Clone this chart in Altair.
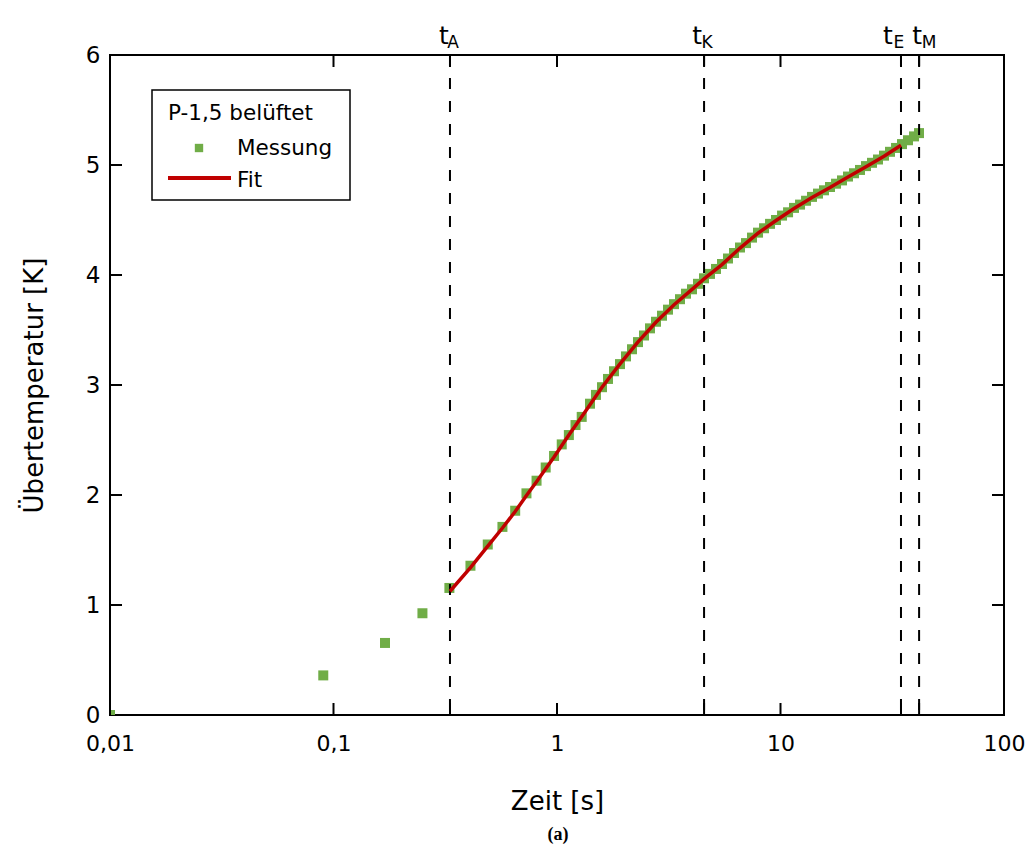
import altair as alt
import pandas as pd

# ---------------- data ----------------
meas_t = [0.01, 0.09, 0.17, 0.25, 0.33, 0.41, 0.49, 0.57, 0.65, 0.73, 0.81, 0.89,
          0.97, 1.05, 1.13, 1.21, 1.29,
          1.405, 1.494, 1.590, 1.691, 1.799, 1.914, 2.036, 2.166, 2.304, 2.451,
          2.607, 2.773, 2.950, 3.138, 3.338, 3.551, 3.778, 4.018, 4.275, 4.547,
          4.837, 5.145, 5.474, 5.823, 6.194, 6.590, 7.010, 7.457, 7.933, 8.440,
          8.978, 9.548, 10.16, 10.81, 11.49, 12.23, 13.01, 13.83, 14.72, 15.65,
          16.65, 17.72, 18.84, 20.04, 21.33, 22.68, 24.13, 25.67, 27.31, 29.05,
          30.90, 32.88, 34.97, 37.20, 39.58, 41.67]
meas_T = [0.0, 0.36, 0.655, 0.925, 1.155, 1.357, 1.55, 1.71, 1.857, 2.015, 2.13, 2.25,
          2.355, 2.46, 2.545, 2.636, 2.71,
          2.83, 2.91, 2.98, 3.055, 3.125, 3.19, 3.26, 3.325, 3.39, 3.45,
          3.515, 3.575, 3.63, 3.685, 3.735, 3.78, 3.83, 3.87, 3.92, 3.97,
          4.01, 4.055, 4.10, 4.15, 4.20, 4.25, 4.29, 4.34, 4.385, 4.425,
          4.465, 4.50, 4.54, 4.57, 4.61, 4.64, 4.675, 4.71, 4.74, 4.77,
          4.80, 4.83, 4.86, 4.895, 4.925, 4.955, 4.99, 5.02, 5.05, 5.085,
          5.12, 5.155, 5.19, 5.225, 5.26, 5.29]

fit_t = [0.332, 0.41, 0.49, 0.57, 0.65, 0.73, 0.81, 0.97, 1.13, 1.32, 1.59, 1.91,
         2.30, 2.77, 3.34, 4.02, 4.55, 5.47, 6.59, 7.93, 9.55, 11.49, 13.83, 16.65,
         20.04, 24.13, 29.05, 34.6]
fit_T = [1.125, 1.34, 1.535, 1.70, 1.85, 1.995, 2.12, 2.345, 2.545, 2.74, 2.98, 3.19,
         3.39, 3.57, 3.73, 3.87, 3.965, 4.095, 4.245, 4.38, 4.495, 4.605, 4.705, 4.795,
         4.89, 4.985, 5.08, 5.18]

mark_names = ["A", "K", "E", "M"]
mark_t = [0.332, 4.55, 34.6, 41.7]

x_tick_values = [0.01, 0.1, 1, 10, 100]
y_tick_values = [0, 1, 2, 3, 4, 5, 6]

legend_title = "P-1,5 belüftet"
legend_labels = ["Messung", "Fit"]
x_title = "Zeit [s]"
y_title = "Übertemperatur [K]"
caption = "(a)"

# ---------------- style ----------------
W, H = 894, 660
GREEN = "#70AD47"
RED = "#C00000"
FONT = "DejaVu Sans"
label_dx = {"A": (-6, 3), "K": (-7, 3), "E": (-13, -2), "M": (-2, 10)}

xs = alt.Scale(type="log", domain=[0.01, 100], nice=False)
ys = alt.Scale(domain=[0, 6], nice=False, zero=False)

meas = pd.DataFrame({"t": meas_t, "T": meas_T})
fit = pd.DataFrame({"t": fit_t, "T": fit_T})
markers = pd.DataFrame({"name": mark_names, "t": mark_t})
xticks = pd.DataFrame({"t": sorted(x_tick_values + mark_t)})
yticks = pd.DataFrame({"T": y_tick_values[1:-1]})
one = pd.DataFrame({"_": [0]})

x_axis = alt.Axis(values=x_tick_values,
                  labelExpr="replace(toString(datum.value), '.', ',')",
                  ticks=False, domain=False, grid=False, labelFlush=False,
                  labelOverlap=False, labelFont=FONT, labelFontSize=22,
                  labelColor="black", labelPadding=18, title=x_title,
                  titleFont=FONT, titleFontSize=26, titleFontWeight="normal",
                  titleColor="black", titlePadding=34)
y_axis = alt.Axis(values=y_tick_values, format="d", ticks=False, domain=False, grid=False,
                  labelFlush=False, labelOverlap=False, labelFont=FONT,
                  labelFontSize=23, labelColor="black", labelPadding=10,
                  title=y_title, titleFont=FONT, titleFontSize=26,
                  titleFontWeight="normal", titleColor="black", titlePadding=38)

X = alt.X("t:Q", scale=xs)
Y = alt.Y("T:Q", scale=ys)

points = alt.Chart(meas).mark_square(size=100, color=GREEN, opacity=1, clip=True).encode(
    x=alt.X("t:Q", scale=xs, axis=x_axis),
    y=alt.Y("T:Q", scale=ys, axis=y_axis),
)

fit_line = alt.Chart(fit).mark_line(color=RED, strokeWidth=3.5).encode(x=X, y=Y)

dashed = alt.Chart(markers).mark_rule(color="black", strokeWidth=2, strokeDash=[11, 12]).encode(
    x=X, y=alt.value(0), y2=alt.value(H)
)

tick_style = dict(color="black", strokeWidth=2)
bottom_ticks = alt.Chart(xticks).mark_rule(**tick_style).encode(
    x=X, y=alt.value(H), y2=alt.value(H - 12))
top_ticks = alt.Chart(xticks).mark_rule(**tick_style).encode(
    x=X, y=alt.value(0), y2=alt.value(12))
left_ticks = alt.Chart(yticks).mark_rule(**tick_style).encode(
    y=Y, x=alt.value(0), x2=alt.value(12))
right_ticks = alt.Chart(yticks).mark_rule(**tick_style).encode(
    y=Y, x=alt.value(W - 12), x2=alt.value(W))

labels = []
for nm in mark_names:
    dt, ds = label_dx[nm]
    base = alt.Chart(markers).transform_filter(alt.datum.name == nm)
    labels.append(base.mark_text(text="t", font=FONT, fontSize=25, align="center",
                                 baseline="alphabetic", dx=dt, color="black").encode(
        x=X, y=alt.value(-11)))
    labels.append(base.mark_text(font=FONT, fontSize=17, align="center",
                                 baseline="alphabetic", dx=ds, color="black").encode(
        x=X, y=alt.value(-7), text="name:N"))

# manual legend
LFS = 21.5
leg_box = alt.Chart(one).mark_rect(fill="white", stroke="black", strokeWidth=1.5).encode(
    x=alt.value(42), x2=alt.value(240), y=alt.value(35), y2=alt.value(145))
leg_title = alt.Chart(one).mark_text(text=legend_title, font=FONT, fontSize=LFS, align="left",
                                     baseline="alphabetic", color="black").encode(
    x=alt.value(58), y=alt.value(65))
leg_sq = alt.Chart(one).mark_square(size=70, color=GREEN, opacity=1).encode(
    x=alt.value(89), y=alt.value(93))
leg_t1 = alt.Chart(one).mark_text(text=legend_labels[0], font=FONT, fontSize=LFS, align="left",
                                  baseline="alphabetic", color="black").encode(
    x=alt.value(127), y=alt.value(100))
leg_ln = alt.Chart(one).mark_rule(color=RED, strokeWidth=4).encode(
    x=alt.value(58), x2=alt.value(121), y=alt.value(123))
leg_t2 = alt.Chart(one).mark_text(text=legend_labels[1], font=FONT, fontSize=LFS, align="left",
                                  baseline="alphabetic", color="black").encode(
    x=alt.value(127), y=alt.value(132))

cap = alt.Chart(one).mark_text(text=caption, font="Liberation Serif", fontWeight="bold",
                               fontSize=18, align="center", baseline="middle",
                               color="black").encode(x=alt.value(448), y=alt.value(780))

chart = alt.layer(
    points, dashed, fit_line, bottom_ticks, top_ticks, left_ticks, right_ticks,
    *labels, leg_box, leg_title, leg_sq, leg_t1, leg_ln, leg_t2, cap
).properties(
    width=W, height=H,
    autosize=alt.AutoSizeParams(type="none"),
    padding={"left": 110, "top": 55, "right": 27, "bottom": 135},
    background="white",
).configure_view(stroke="black", strokeWidth=2)

chart.save("out.html", embed_options={"renderer": "svg", "actions": False})
